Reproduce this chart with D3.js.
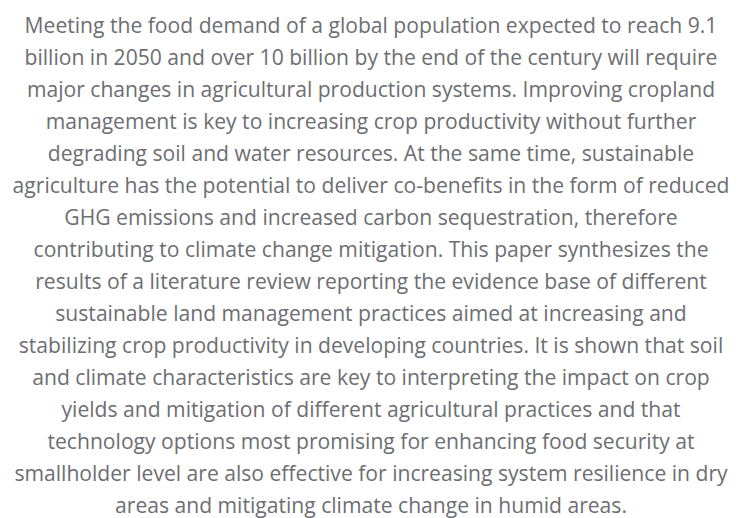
<!DOCTYPE html>
<html><head><meta charset="utf-8">
<script src="https://cdn.jsdelivr.net/npm/d3@7"></script>
<style>html,body{margin:0;padding:0;background:#fff;}</style>
</head><body>
<svg id="c" width="742" height="518"></svg>
<script>
const lines = [
"Meeting the food demand of a global population expected to reach 9.1",
"billion in 2050 and over 10 billion by the end of the century will require",
"major changes in agricultural production systems. Improving cropland",
"management is key to increasing crop productivity without further",
"degrading soil and water resources. At the same time, sustainable",
"agriculture has the potential to deliver co-benefits in the form of reduced",
"GHG emissions and increased carbon sequestration, therefore",
"contributing to climate change mitigation. This paper synthesizes the",
"results of a literature review reporting the evidence base of different",
"sustainable land management practices aimed at increasing and",
"stabilizing crop productivity in developing countries. It is shown that soil",
"and climate characteristics are key to interpreting the impact on crop",
"yields and mitigation of different agricultural practices and that",
"technology options most promising for enhancing food security at",
"smallholder level are also effective for increasing system resilience in dry",
"areas and mitigating climate change in humid areas."
];
const svg = d3.select("#c");
const y = d3.scaleLinear().domain([0, lines.length-1]).range([33, 33 + 32*(lines.length-1)]);
const g = svg.append("g");
const t = g.selectAll("text").data(lines).join("text")
  .attr("x", 0).attr("y", (d,i)=>y(i))
  .attr("text-anchor","middle")
  .attr("fill","#6d6e72")
  .style("font-family","'Open Sans', 'Noto Sans', sans-serif")
  .style("font-size","21px")
  .text(d=>d);
const w0 = t.node().getComputedTextLength();
const k = 693 / w0;
g.attr("transform", `translate(371,0) scale(${k},1)`);
</script>
</body></html>
